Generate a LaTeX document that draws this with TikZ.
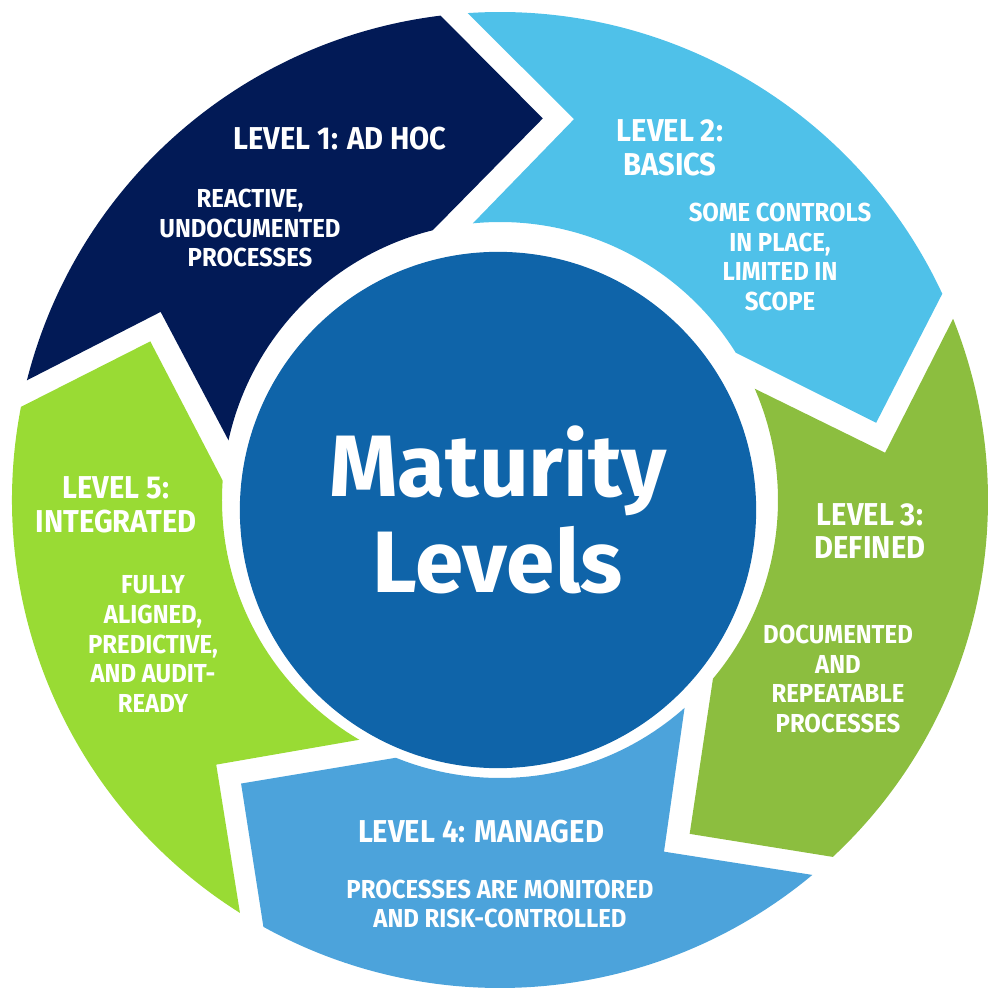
\documentclass[tikz,border=0pt]{standalone}
\usepackage{fontspec}
\setmainfont{Fira Sans}
\newfontfamily\condfont{Fira Sans}[FakeStretch=0.92]
\definecolor{lvlone}{HTML}{021A56}
\definecolor{lvltwo}{HTML}{4FC1E9}
\definecolor{lvlthree}{HTML}{8CBE3F}
\definecolor{lvlfour}{HTML}{4CA3DB}
\definecolor{lvlfive}{HTML}{99DB34}
\definecolor{hub}{HTML}{0F64A9}
\begin{document}
\begin{tikzpicture}[x=0.01cm, y=0.01cm,
      every node/.style = {text=white, align=center, inner sep=0pt},
      lvltitle/.style = {font=\condfont\bfseries\fontsize{9}{9.6}\selectfont},
      lvltext/.style = {font=\condfont\bfseries\fontsize{7.4}{8.5}\selectfont},
      hubtext/.style = {font=\bfseries\fontsize{24.8}{27.3}\selectfont}]
  \useasboundingbox (-500,-500) rectangle (500,500);
  \foreach \tip/\col in {83.6/lvlone, 11.6/lvltwo, -60.4/lvlthree, -132.4/lvlfour, 155.6/lvlfive} {
    \pgfmathsetmacro\aHo{\tip+13.4}
    \pgfmathsetmacro\aHi{\tip+20.4}
    \pgfmathsetmacro\aTo{\tip+82.2}
    \pgfmathsetmacro\aTn{\tip+67.4}
    \pgfmathsetmacro\aTi{\tip+84}
    \fill[\col] (\aHo:488) arc[start angle=\aHo, end angle=\aTo, radius=488]
      -- (\aTn:388) -- (\aTi:278) arc[start angle=\aTi, end angle=\aHi, radius=278]
      -- (\tip:384) -- cycle;
  }
  \node[circle, fill=hub, minimum size=5.16cm, hubtext] (hub) at (-2,-10) {Maturity\\Levels};

  \node[lvltitle] (t1) at (-160,361) {LEVEL 1: AD HOC};
  \node[lvltext] (d1) at (-250,272) {REACTIVE,\\UNDOCUMENTED\\PROCESSES};
  \node[lvltitle] (t2) at (170,352) {LEVEL 2:\\BASICS};
  \node[lvltext] (d2) at (280,243) {SOME CONTROLS\\IN PLACE,\\LIMITED IN\\SCOPE};
  \node[lvltitle] (t3) at (370,-31) {LEVEL 3:\\DEFINED};
  \node[lvltext] (d3) at (338,-179) {DOCUMENTED\\AND\\REPEATABLE\\PROCESSES};
  \node[lvltitle] (t4) at (-19,-332) {LEVEL 4: MANAGED};
  \node[lvltext] (d4) at (0,-404) {PROCESSES ARE MONITORED\\AND RISK-CONTROLLED};
  \node[lvltitle] (t5) at (-384,-5) {LEVEL 5:\\INTEGRATED};
  \node[lvltext] (d5) at (-347,-144) {FULLY\\ALIGNED,\\PREDICTIVE,\\AND AUDIT-\\READY};
\end{tikzpicture}
\end{document}
